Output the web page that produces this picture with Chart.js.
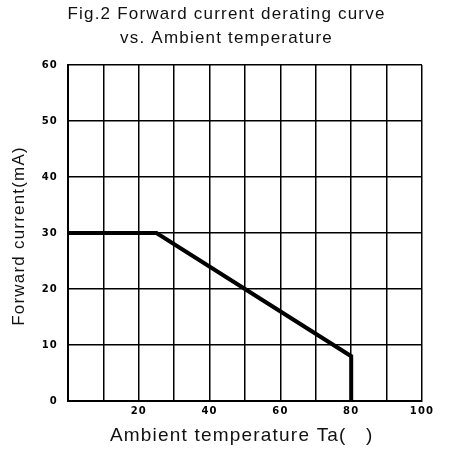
<!DOCTYPE html>
<html>
<head>
<meta charset="utf-8">
<script src="https://cdn.jsdelivr.net/npm/chart.js@4/dist/chart.umd.min.js"></script>
<style>
  html, body { margin: 0; padding: 0; background: #fff; }
  #wrap { width: 453px; height: 452px; }
</style>
</head>
<body>
<div id="wrap"><canvas id="deratingChart" width="453" height="452"></canvas></div>
<script>
// --- data ---
const tempPoints = [0, 25, 80, 80];        // ambient temperature (Ta)
const currentPoints = [30, 30, 8, 0];      // forward current (mA)
const xTickLabels = [20, 40, 60, 80, 100]; // labelled x ticks
const yTickLabels = [0, 10, 20, 30, 40, 50, 60];

// the scanned figure uses widely spaced lettering
const spacedText = {
    id: 'spacedText',
    beforeDraw: chart => { chart.ctx.letterSpacing = '1.2px'; }
};

const ctx = document.getElementById('deratingChart').getContext('2d');
new Chart(ctx, {
    type: 'scatter',
    data: {
        datasets: [{
            label: 'Forward current',
            data: tempPoints.map((t, i) => ({ x: t, y: currentPoints[i] })),
            showLine: true,
            borderColor: '#000',
            borderWidth: 4,
            pointRadius: 0,
            tension: 0,
            fill: false
        }]
    },
    plugins: [spacedText],
    options: {
        responsive: false,
        animation: false,
        devicePixelRatio: 1,
        layout: { padding: 0 },
        plugins: {
            legend: { display: false },
            tooltip: { enabled: false },
            title: {
                display: true,
                text: ['Fig.2 Forward current derating curve', 'vs. Ambient temperature'],
                color: '#111',
                font: { family: 'Liberation Sans', size: 17, weight: 'normal', lineHeight: 1.41 },
                padding: { top: 2, bottom: 15 }
            }
        },
        scales: {
            x: {
                type: 'linear',
                min: 0,
                max: 100,
                afterFit: scale => { scale.height = 51; },
                ticks: {
                    stepSize: 10,
                    autoSkip: false,
                    maxRotation: 0,
                    color: '#000',
                    padding: 4,
                    font: { family: 'DejaVu Sans', size: 10, weight: 'bold' },
                    callback: v => xTickLabels.includes(v) ? String(v) : ''
                },
                grid: { color: '#000', lineWidth: 1.5, drawTicks: false },
                border: { color: '#000', width: 2 },
                title: {
                    display: true,
                    // trailing blank nudges the label left, as in the figure
                    text: 'Ambient temperature Ta(   ) ',
                    color: '#111',
                    font: { family: 'Liberation Sans', size: 19 },
                    padding: { top: 4, bottom: 5 }
                }
            },
            y: {
                type: 'linear',
                min: 0,
                max: 60,
                afterFit: scale => { scale.width = 68; },
                ticks: {
                    stepSize: 10,
                    color: '#000',
                    padding: 10,
                    font: { family: 'DejaVu Sans', size: 10, weight: 'bold' },
                    callback: v => yTickLabels.includes(v) ? String(v) : ''
                },
                grid: { color: '#000', lineWidth: 1.5, drawTicks: false },
                border: { color: '#000', width: 2 },
                title: {
                    display: true,
                    text: 'Forward current(mA) ',
                    color: '#111',
                    font: { family: 'Liberation Sans', size: 17 },
                    padding: { top: 9, bottom: 0 }
                }
            },
            // empty strip on the right so the plot ends where the figure's grid ends
            spacer: {
                type: 'linear',
                position: 'right',
                afterFit: scale => { scale.width = 31; },
                ticks: { display: false },
                grid: { display: false },
                border: { display: false }
            }
        }
    }
});
</script>
</body>
</html>
